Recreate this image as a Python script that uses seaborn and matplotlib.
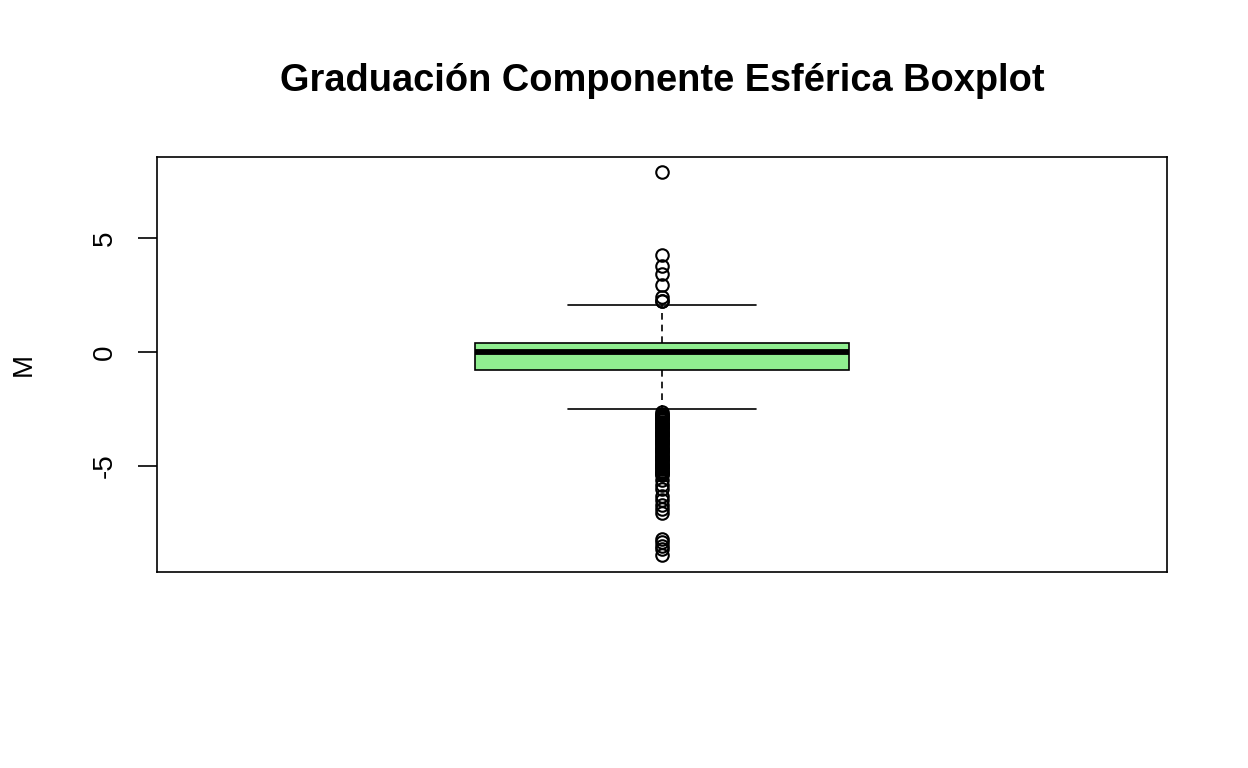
import numpy as np
import pandas as pd
import matplotlib
matplotlib.use("Agg")
import matplotlib.pyplot as plt
import seaborn as sns

# spherical component values (diopters) and how many times each appears
valores_altos = [7.9, 4.25, 3.75, 3.4, 2.95, 2.4, 2.25]
conteos_altos = [1, 1, 1, 1, 1, 1, 2]

valores_centro = [2.05, 1.5, 1.0, 0.75, 0.5, 0.4, 0.25, 0.0,
                  -0.25, -0.5, -0.8, -1.0, -1.5, -2.0, -2.5]
conteos_centro = [2, 5, 20, 40, 80, 140, 60, 200,
                  100, 100, 120, 60, 40, 20, 5]

valores_bajos = [-2.65, -2.7, -2.75, -2.8, -2.85, -2.9, -2.95, -3.0, -3.05, -3.1,
                 -3.15, -3.2, -3.25, -3.3, -3.35, -3.4, -3.45, -3.5, -3.55, -3.6,
                 -3.65, -3.7, -3.75, -3.8, -3.85, -3.9, -3.95, -4.0, -4.05, -4.1,
                 -4.15, -4.2, -4.25, -4.3, -4.35, -4.4, -4.45, -4.5, -4.55, -4.6,
                 -4.65, -4.7, -4.75, -4.8, -4.85, -4.9, -4.95, -5.0, -5.05, -5.1,
                 -5.15, -5.2, -5.25, -5.3, -5.35, -5.4,
                 -5.6, -5.85, -6.0, -6.3, -6.5, -6.7, -6.9, -7.05,
                 -8.2, -8.35, -8.5, -8.65, -8.9]
conteos_bajos = [1] * len(valores_bajos)

valores = valores_altos + valores_centro + valores_bajos
conteos = conteos_altos + conteos_centro + conteos_bajos
df = pd.DataFrame({"M": np.repeat(valores, conteos)})

sns.set_style("white")
plt.rcParams["font.family"] = ["Liberation Sans", "DejaVu Sans"]
plt.rcParams["text.color"] = "black"
plt.rcParams["axes.labelcolor"] = "black"

fig = plt.figure(figsize=(12.48, 7.68), dpi=100)
ax = fig.add_axes([157 / 1248, 1 - 572 / 768, 1010 / 1248, 415 / 768])

sns.boxplot(data=df, y="M", ax=ax, color="#90EE90", saturation=1,
            width=0.4, whis=1.5, linecolor="black", linewidth=1.2,
            medianprops=dict(linewidth=4.2, color="black"),
            whiskerprops=dict(linestyle=(0, (4, 3)), linewidth=1.2),
            capprops=dict(linewidth=1.2),
            flierprops=dict(marker="o", markersize=9, markerfacecolor="none",
                            markeredgecolor="black", markeredgewidth=1.5))

ax.set_xlim(-0.54, 0.54)
ax.set_ylim(-9.65, 8.55)
ax.set_yticks([-5, 0, 5])
ax.set_yticklabels(["-5", "0", "5"], rotation=90, va="center", fontsize=20)
ax.set_xticks([])
ax.set_xlabel("")
ax.set_ylabel("M", fontsize=20, labelpad=40)
ax.tick_params(axis="y", left=True, length=14, width=1.2, pad=14,
               colors="black", labelcolor="black")
for s in ax.spines.values():
    s.set_visible(True)
    s.set_color("black")
    s.set_linewidth(1.2)

fig.text(662 / 1248, 1 - 81 / 768, "Graduación Componente Esférica Boxplot",
         ha="center", va="center", fontsize=27.4, fontweight="bold", color="black")

fig.savefig("out.png", dpi=100, facecolor="white")
